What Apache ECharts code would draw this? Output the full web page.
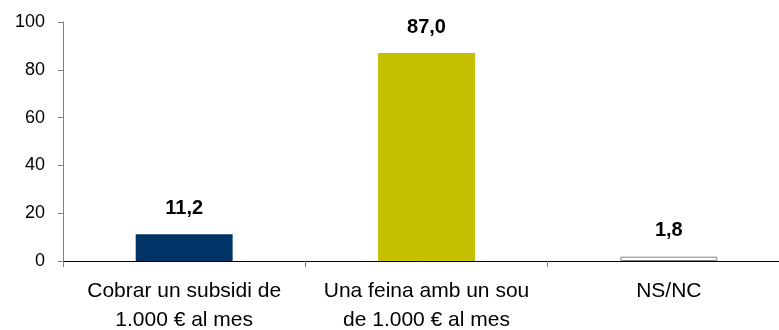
<!DOCTYPE html>
<html>
<head>
<meta charset="utf-8">
<script src="https://cdn.jsdelivr.net/npm/echarts@6/dist/echarts.min.js"></script>
<style>
  html, body { margin: 0; padding: 0; background: #ffffff; }
  #chart { width: 779px; height: 330px; }
</style>
</head>
<body>
<div id="chart"></div>
<script>
// Answers and their shares (%)
const categories = ['Cobrar un subsidi de\n1.000 € al mes', 'Una feina amb un sou\nde 1.000 € al mes', 'NS/NC'];
const values = [11.2, 87.0, 1.8];
const valueLabels = ['11,2', '87,0', '1,8'];
const barColors = ['#003366', '#C4C000', '#FFFFFF'];
const yTicks = [0, 20, 40, 60, 80, 100];

const chart = echarts.init(document.getElementById('chart'));

chart.setOption({
  animation: false,
  backgroundColor: '#ffffff',
  grid: { left: 63, right: -11, top: 22, bottom: 69, containLabel: false, outerBoundsMode: 'none' },
  xAxis: {
    type: 'category',
    data: categories,
    boundaryGap: true,
    axisLine: { lineStyle: { color: '#000000', width: 1 } },
    axisTick: { show: true, alignWithLabel: false, length: 6, lineStyle: { color: '#808080' } },
    axisLabel: {
      interval: 0,
      hideOverlap: false,
      color: '#000000',
      fontFamily: 'Liberation Sans, Arial, sans-serif',
      fontSize: 21,
      lineHeight: 29,
      margin: 16
    }
  },
  yAxis: {
    type: 'value',
    min: yTicks[0],
    max: yTicks[yTicks.length - 1],
    interval: 20,
    splitLine: { show: false },
    axisLine: { show: true, lineStyle: { color: '#808080', width: 1 } },
    axisTick: { show: true, length: 5, lineStyle: { color: '#808080' } },
    axisLabel: {
      color: '#000000',
      fontFamily: 'Liberation Sans, Arial, sans-serif',
      fontSize: 18,
      margin: 18
    }
  },
  series: [{
    type: 'bar',
    barWidth: '40%',
    data: values.map((v, i) => ({
      value: v,
      itemStyle: {
        color: barColors[i],
        borderColor: i === 2 ? '#808080' : barColors[i],
        borderWidth: i === 2 ? 1 : 0
      }
    })),
    label: {
      show: true,
      position: 'top',
      distance: 16,
      formatter: p => valueLabels[p.dataIndex],
      color: '#000000',
      fontFamily: 'Liberation Sans, Arial, sans-serif',
      fontWeight: 'bold',
      fontSize: 20
    }
  }]
});
</script>
</body>
</html>
